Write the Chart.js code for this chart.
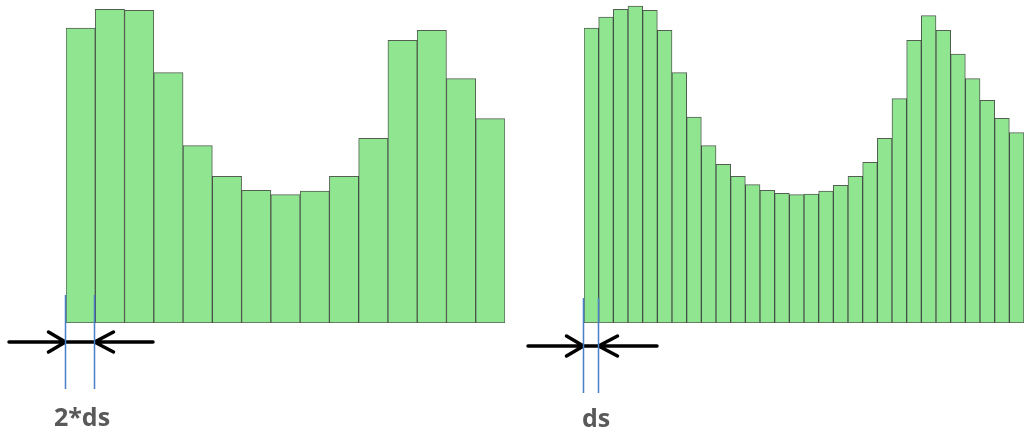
<!DOCTYPE html>
<html>
<head>
<meta charset="utf-8">
<script src="https://cdn.jsdelivr.net/npm/chart.js@4/dist/chart.umd.min.js"></script>
<style>
  body { margin: 0; background: #fff; }
  #wrap { position: relative; width: 1026px; height: 430px; }
  .box { position: absolute; top: 0; width: 513px; height: 430px; }
</style>
</head>
<body>
<div id="wrap">
  <div class="box" style="left:0"><canvas id="coarse"></canvas></div>
  <div class="box" style="left:513px"><canvas id="fine"></canvas></div>
</div>
<script>
// bin heights (same units for both panels)
const coarseBins = [295, 313.7, 312.7, 250.3, 177.3, 146.7, 132.7, 128.3, 132, 146.7, 184.7, 282.7, 292.7, 244.3, 204.3]
const fineBins = [295, 306, 313.7, 317, 312.7, 292.7, 250.3, 206, 177.3, 158.7, 146.7, 138.3, 132.7, 129.7, 128.3,
                  129, 132, 137.7, 146.7, 160.7, 184.7, 224.3, 282.7, 307.3, 292.7, 269, 244.3, 222.7, 204.7, 190.3]
const yMax = 323

const coarseLabel = '2*ds'
const fineLabel = 'ds'

// arrows, blue bin-edge lines and the width label under the first bin
const widthMark = {
  id: 'widthMark',
  afterDraw(chart, args, opts) {
    const ctx = chart.ctx
    const bar = chart.getDatasetMeta(0).data[0]
    const half = bar.width / 2
    const x1 = Math.round(bar.x - half) - 0.5
    const x2 = Math.round(bar.x + half) - 0.5
    ctx.save()
    // arrows (one black line through both heads)
    const y = opts.arrowY
    ctx.strokeStyle = '#000'
    ctx.lineWidth = 3.5
    ctx.lineCap = 'round'
    ctx.lineJoin = 'round'
    ctx.beginPath()
    ctx.moveTo(opts.arrowFrom, y); ctx.lineTo(opts.arrowTo, y)
    ctx.moveTo(x1 - 17, y - 10); ctx.lineTo(x1, y); ctx.lineTo(x1 - 17, y + 10)
    ctx.moveTo(x2 + 19, y - 10); ctx.lineTo(x2, y); ctx.lineTo(x2 + 19, y + 10)
    ctx.stroke()
    // blue lines
    ctx.strokeStyle = '#4a7ec6'
    ctx.lineWidth = 1.5
    ctx.lineCap = 'butt'
    ctx.beginPath()
    ctx.moveTo(x1, opts.lineTop); ctx.lineTo(x1, opts.lineBottom)
    ctx.moveTo(x2, opts.lineTop); ctx.lineTo(x2, opts.lineBottom)
    ctx.stroke()
    // label
    ctx.fillStyle = '#595959'
    ctx.font = 'bold 25px "Open Sans", sans-serif'
    ctx.textAlign = 'center'
    ctx.textBaseline = 'alphabetic'
    ctx.fillText(opts.text, opts.textX, opts.textY)
    ctx.restore()
  }
}

function makeChart(id, bins, pad, marks) {
  return new Chart(document.getElementById(id), {
    type: 'bar',
    data: {
      labels: bins.map((v, i) => i + 1),
      datasets: [{
        data: bins,
        backgroundColor: '#90e690',
        borderColor: 'rgba(40,55,40,0.8)',
        borderWidth: 1,
        borderSkipped: false,
        categoryPercentage: 1,
        barPercentage: 1
      }]
    },
    options: {
      responsive: true,
      maintainAspectRatio: false,
      animation: false,
      layout: { padding: pad },
      scales: {
        x: { display: false },
        y: { display: false, min: 0, max: yMax }
      },
      plugins: {
        legend: { display: false },
        tooltip: { enabled: false },
        widthMark: marks
      }
    },
    plugins: [widthMark]
  })
}

makeChart('coarse', coarseBins, { left: 66, right: 8, top: 0, bottom: 107 }, {
  lineTop: 295, lineBottom: 389, arrowY: 342, arrowFrom: 9, arrowTo: 153,
  text: coarseLabel, textX: 82, textY: 426
})
makeChart('fine', fineBins, { left: 71, right: 2, top: 0, bottom: 107 }, {
  lineTop: 298, lineBottom: 393, arrowY: 346, arrowFrom: 15, arrowTo: 144,
  text: fineLabel, textX: 83, textY: 427
})
</script>
</body>
</html>
